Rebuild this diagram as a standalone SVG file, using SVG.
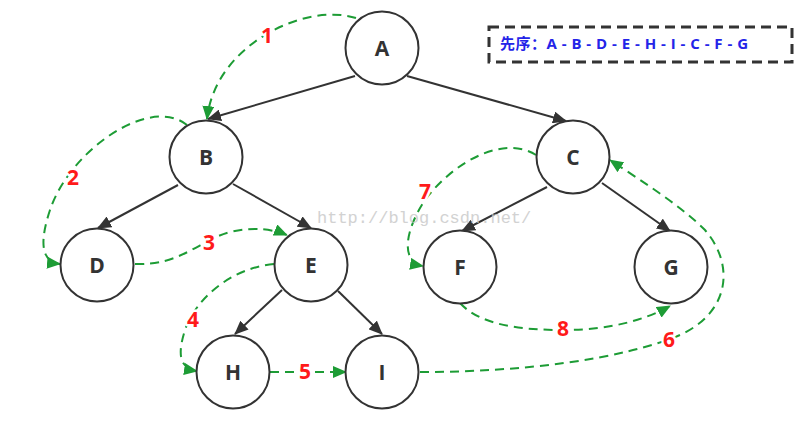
<svg xmlns="http://www.w3.org/2000/svg" width="812" height="421" viewBox="0 0 812 421">
<style>
.node circle{fill:#fff;stroke:#333;stroke-width:2}
.node text{font-family:"Open Sans","Liberation Sans",sans-serif;font-weight:bold;font-size:21px;fill:#333;text-anchor:middle}
.edge{fill:none;stroke:#333;stroke-width:2}
.trav{fill:none;stroke:#1d9c35;stroke-width:2;stroke-dasharray:9 6}
.num{font-family:"Open Sans","Liberation Sans",sans-serif;font-weight:bold;font-size:21px;fill:#ff1a1a;text-anchor:middle;stroke:#fff;stroke-width:5;paint-order:stroke;stroke-linejoin:round}
.legend{font-family:"Open Sans","Liberation Sans","Noto Sans CJK SC",sans-serif;font-weight:bold;font-size:15px;fill:#2424e8}
.wm{font-family:"Liberation Mono",monospace;font-size:17px;fill:#c8c8c8;opacity:0.8}
</style>
<defs>
<marker id="ah" markerUnits="userSpaceOnUse" markerWidth="14" markerHeight="12" refX="13" refY="6" orient="auto"><path d="M0,0 L14,6 L0,12 Z" fill="#333"/></marker>
<marker id="gh" markerUnits="userSpaceOnUse" markerWidth="14" markerHeight="12" refX="13" refY="6" orient="auto"><path d="M0,0 L14,6 L0,12 Z" fill="#1d9c35"/></marker>
</defs>
<g id="connectors">
<path class="edge" marker-end="url(#ah)" d="M355,76 L208,119"/>
<path class="edge" marker-end="url(#ah)" d="M407,76 L566,121"/>
<path class="edge" marker-end="url(#ah)" d="M178,185 L98,228"/>
<path class="edge" marker-end="url(#ah)" d="M233,184 L311,228"/>
<path class="edge" marker-end="url(#ah)" d="M282,290 L235,334"/>
<path class="edge" marker-end="url(#ah)" d="M338,291 L382,334"/>
<path class="edge" marker-end="url(#ah)" d="M547,187 L462,231"/>
<path class="edge" marker-end="url(#ah)" d="M602,183 L670,231"/>
<path class="trav" marker-end="url(#gh)" d="M356,18 C305,2 215,45 207,119"/>
<path class="trav" marker-end="url(#gh)" d="M187,125 C150,95 70,150 50,210 C40,240 40,262 60,264"/>
<path class="trav" marker-end="url(#gh)" d="M135,264 C180,266 200,240 230,232 C255,226 275,230 287,235"/>
<path class="trav" marker-end="url(#gh)" d="M274,264 C230,268 195,300 185,330 C178,352 178,368 197,371"/>
<path class="trav" marker-end="url(#gh)" d="M270,372 L346,372"/>
<path class="trav" marker-end="url(#gh)" d="M420,372 C520,372 620,360 680,335 C730,312 735,265 705,230 C680,205 640,180 610,160"/>
<path class="trav" marker-end="url(#gh)" d="M536,155 C505,135 455,160 425,200 C405,230 400,262 423,266"/>
<path class="trav" marker-end="url(#gh)" d="M460,303 C480,325 520,330 563,330 C610,330 645,320 670,306"/>
<text class="num" x="267" y="43">1</text>
<text class="num" x="73" y="185">2</text>
<text class="num" x="209" y="250">3</text>
<text class="num" x="193" y="327">4</text>
<text class="num" x="305" y="379">5</text>
<text class="num" x="669" y="347">6</text>
<text class="num" x="425" y="199">7</text>
<text class="num" x="563" y="336">8</text>
</g>
<g id="A" class="node"><circle cx="382" cy="48" r="36.5"/><text x="382" y="55.5">A</text></g>
<g id="B" class="node"><circle cx="206" cy="157" r="36.5"/><text x="206" y="164.5">B</text></g>
<g id="C" class="node"><circle cx="573" cy="157" r="36.5"/><text x="573" y="164.5">C</text></g>
<g id="D" class="node"><circle cx="97" cy="265" r="36.5"/><text x="97" y="272.5">D</text></g>
<g id="E" class="node"><circle cx="311" cy="265" r="36.5"/><text x="311" y="272.5">E</text></g>
<g id="F" class="node"><circle cx="460" cy="267" r="36.5"/><text x="460" y="274.5">F</text></g>
<g id="G" class="node"><circle cx="671" cy="267" r="36.5"/><text x="671" y="274.5">G</text></g>
<g id="H" class="node"><circle cx="233" cy="372" r="36.5"/><text x="233" y="379.5">H</text></g>
<g id="I" class="node"><circle cx="382" cy="372" r="36.5"/><text x="382" y="379.5">I</text></g>
<g id="legend">
<rect x="489" y="27" width="303" height="35" fill="#fff" stroke="#333" stroke-width="3" stroke-dasharray="10 6"/>
<text class="legend" x="500" y="49" textLength="248" lengthAdjust="spacing">先序：A - B - D - E - H - I - C - F - G</text>
</g>
<text class="wm" x="317" y="223">http://blog.csdn.net/</text>
</svg>
